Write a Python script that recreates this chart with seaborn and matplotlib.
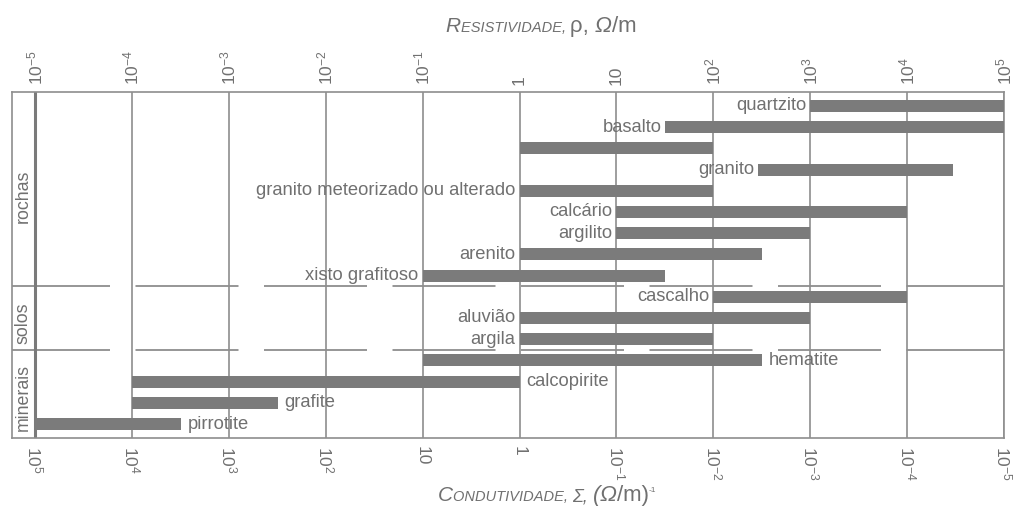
import numpy as np
import pandas as pd
import matplotlib
matplotlib.use("Agg")
import matplotlib.pyplot as plt
import seaborn as sns

# ---------------- data ----------------
materials = ["quartzito", "basalto", "", "granito", "granito meteorizado ou alterado",
             "calcário", "argilito", "arenito", "xisto grafitoso",
             "cascalho", "aluvião", "argila",
             "hematite", "calcopirite", "grafite", "pirrotite"]
rho_min = [1e3, 32, 1, 290, 1, 10, 10, 1, 0.1, 100, 1, 1, 0.1, 1e-4, 1e-4, 1e-5]
rho_max = [1e5, 1e5, 100, 3e4, 100, 1e4, 1e3, 320, 32, 1e4, 1e3, 100, 320, 1, 3.2e-3, 3.2e-4]
label_side = ["left"] * 12 + ["right"] * 4
groups = ["rochas", "solos", "minerais"]
group_sizes = [9, 3, 4]
res_ticks = [1e-5, 1e-4, 1e-3, 1e-2, 1e-1, 1, 10, 1e2, 1e3, 1e4, 1e5]
res_labels = [r"$10^{-5}$", r"$10^{-4}$", r"$10^{-3}$", r"$10^{-2}$", r"$10^{-1}$", "1", "10",
              r"$10^{2}$", r"$10^{3}$", r"$10^{4}$", r"$10^{5}$"]
cond_labels = [r"$10^{5}$", r"$10^{4}$", r"$10^{3}$", r"$10^{2}$", "10", "1", r"$10^{-1}$",
               r"$10^{-2}$", r"$10^{-3}$", r"$10^{-4}$", r"$10^{-5}$"]

df = pd.DataFrame({"material": materials, "lo": rho_min, "hi": rho_max, "side": label_side})
df["row"] = np.arange(len(df))

# ---------------- style ----------------
sns.set_theme(style="white")
FONT = "Liberation Sans"
plt.rcParams["font.family"] = [FONT, "DejaVu Sans"]
plt.rcParams["mathtext.fontset"] = "custom"
plt.rcParams["mathtext.rm"] = FONT
plt.rcParams["mathtext.it"] = FONT + ":italic"
plt.rcParams["mathtext.default"] = "regular"
plt.rcParams["axes.unicode_minus"] = False
plt.rcParams["lines.scale_dashes"] = False

TXT = "#707070"
BAR = "#7b7b7b"
GRID = "#8e8e8e"

fig = plt.figure(figsize=(10.14, 5.15), dpi=100)
W, H = 1014, 515
ax = fig.add_axes([12 / W, 77 / H, 992 / W, 346 / H])

ax.set_xscale("log")
x_left = 10 ** (-5 - 23 / 96.9)
ax.set_xlim(x_left, 1e5)
n = len(df)
pad_rows = 14 / 21.2
ax.set_ylim(n - 1 + pad_rows, -pad_rows)

# bars
ax.barh(df["row"], df["hi"] - df["lo"], left=df["lo"], height=0.57,
        color=BAR, edgecolor="none", zorder=3)

# labels
LBL = 13.2
for _, r in df.iterrows():
    if not r["material"]:
        continue
    if r["side"] == "left":
        ax.annotate(r["material"], (r["lo"], r["row"]), xytext=(-4, 0),
                    textcoords="offset pixels", ha="right", va="center",
                    fontsize=LBL, color=TXT, zorder=4)
    else:
        ax.annotate(r["material"], (r["hi"], r["row"]), xytext=(7, 0),
                    textcoords="offset pixels", ha="left", va="center",
                    fontsize=LBL, color=TXT, zorder=4)

# grid
ax.set_xticks(res_ticks, labels=res_labels)
ax.xaxis.set_minor_locator(matplotlib.ticker.NullLocator())
ax.set_yticks([])
ax.grid(axis="x", color=GRID, lw=1.2, zorder=1)
ax.grid(axis="y", visible=False)
ax.axvline(1e-5, color="#7a7a7a", lw=2.2, zorder=2)
ax.xaxis.tick_top()
ax.tick_params(axis="x", length=0, pad=5, labelrotation=90, labelsize=12.5, colors=TXT)
for s in ax.spines.values():
    s.set_color(GRID)
    s.set_linewidth(1.2)

# bottom (conductivity) labels
secax = ax.secondary_xaxis("bottom")
secax.set_xticks(res_ticks, labels=cond_labels)
secax.xaxis.set_minor_locator(matplotlib.ticker.NullLocator())
secax.tick_params(axis="x", length=0, pad=6, labelrotation=-90, labelsize=12.5, colors=TXT)
secax.spines["bottom"].set_visible(False)

# group separators and labels
bounds = np.cumsum(group_sizes)
starts = np.concatenate([[0], bounds[:-1]])
px = 0.72
for b in bounds[:-1]:
    ax.axhline(b - 0.5, color=GRID, lw=1.3, zorder=1,
               linestyle=(5 * px, (103 * px, 25.5 * px)))
x_col = np.sqrt(x_left * 1e-5)
for g, s0, sz in zip(groups, starts, group_sizes):
    ax.text(x_col, s0 + (sz - 1) / 2 + 0.25, g, rotation=90, ha="center", va="center",
            fontsize=12.8, color=TXT)


# axis titles with small caps
def rich_text(x_px, y_px, pieces):
    rend = fig.canvas.get_renderer()
    objs, widths, dys = [], [], []
    for s, kw in pieces:
        kw = dict(kw)
        dy = kw.pop("dy", 0)
        t = fig.text(0, 0, s, transform=None, ha="left", va="baseline", color=TXT, **kw)
        objs.append(t)
        dys.append(dy)
        widths.append(t.get_window_extent(rend).width)
    x = x_px - sum(widths) / 2
    for t, w, dy in zip(objs, widths, dys):
        t.set_position((x, y_px + dy))
        x += w


NARROW = ["Liberation Sans Narrow", FONT]
big_it = dict(fontsize=15, style="italic", family=NARROW)
sm_it = dict(fontsize=10.5, style="italic", family=NARROW)
big = dict(fontsize=16, family=[FONT])
big_i = dict(fontsize=16, style="italic", family=[FONT])

rich_text(541, H - 32, [("R", big_it), ("ESISTIVIDADE, ", sm_it), ("ρ, ", big),
                        ("Ω", big_i), ("/m", big)])
rich_text(547, H - 501, [("C", big_it), ("ONDUTIVIDADE, ", sm_it),
                         ("Σ, ", dict(fontsize=13, style="italic", family=[FONT])),
                         ("(", big_i), ("Ω", big_i), ("/m)", big),
                         ("-1", dict(fontsize=6, family=[FONT], dy=9))])

fig.savefig("out.png", dpi=100)
